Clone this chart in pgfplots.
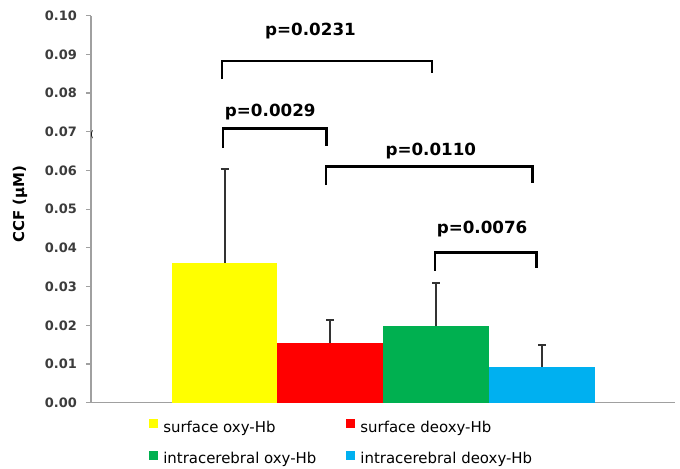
\documentclass[border=0pt]{standalone}
\usepackage{pgfplots}
\pgfplotsset{compat=1.18}
\usepackage{fontspec}
\setmainfont{DejaVu Sans}
\definecolor{cyel}{HTML}{FFFF00}
\definecolor{cred}{HTML}{FF0000}
\definecolor{cgrn}{HTML}{00B050}
\definecolor{cblu}{HTML}{00B0F0}
\definecolor{axgray}{HTML}{A0A0A0}
\definecolor{errgray}{HTML}{333333}
\definecolor{tickgray}{HTML}{3C3C3C}
\pgfplotsset{
  errstyle/.style={error bars/.cd, y dir=plus, y explicit,
    error bar style={draw=errgray, line width=2bp},
    error mark options={rotate=90, draw=errgray, line width=1.8bp, mark size=4bp}},
}
\begin{document}
\begin{tikzpicture}
\path[use as bounding box] (0,0) rectangle (680bp,469bp);
\begin{axis}[
  at={(91bp,66.3bp)}, anchor=south west,
  scale only axis, width=584bp, height=387bp,
  xmin=-1.261, xmax=4.254, ymin=0, ymax=0.10,
  axis x line=bottom, axis y line=left,
  axis line style={-, draw=axgray, line width=1.5bp},
  xtick=\empty,
  ytick={0,0.01,0.02,0.03,0.04,0.05,0.06,0.07,0.08,0.09,0.10},
  scaled y ticks=false,
  /pgf/number format/assume math mode=true,
  yticklabel style={/pgf/number format/fixed, /pgf/number format/fixed zerofill, /pgf/number format/precision=2,
    font=\bfseries\fontsize{13}{15}\selectfont, text=tickgray, inner sep=0pt, anchor=east, xshift=-9bp},
  tick align=outside, major tick length=5bp,
  tick style={draw=axgray, line width=1.2bp},
  ylabel={CCF (μM)},
  every axis y label/.style={at={(axis description cs:-0.1216,0.5134)}, rotate=90, anchor=center,
    font=\bfseries\fontsize{15}{17}\selectfont},
  legend columns=2,
  legend cell align=left,
  legend style={draw=none, fill=none, inner sep=0pt, outer sep=0pt,
    at={(0.0998,-0.0429)}, anchor=north west,
    font=\fontsize{15}{18}\selectfont, row sep=15.8bp,
    nodes={inner sep=1bp},
    /tikz/every odd column/.append style={column sep=4bp},
    /tikz/every even column/.append style={column sep=29bp}},
  legend image code/.code={\fill[#1] (0bp,-1bp) rectangle (9bp,8bp);},
  clip=false,
]
\addplot[ybar, bar width=1, bar shift=0pt, fill=cyel, draw=none, errstyle]
  coordinates {(0,0.0362) +- (0,0.0241)};
\addlegendentry{surface oxy-Hb}
\addplot[ybar, bar width=1, bar shift=0pt, fill=cred, draw=none, errstyle]
  coordinates {(1,0.01535) +- (0,0.0060)};
\addlegendentry{surface deoxy-Hb}
\addplot[ybar, bar width=1, bar shift=0pt, fill=cgrn, draw=none, errstyle]
  coordinates {(2,0.0198) +- (0,0.0111)};
\addlegendentry{intracerebral oxy-Hb}
\addplot[ybar, bar width=1, bar shift=0pt, fill=cblu, draw=none, errstyle]
  coordinates {(3,0.0093) +- (0,0.0056)};
\addlegendentry{intracerebral deoxy-Hb}
% significance brackets
\addplot[black, line width=2.5bp, line join=miter, forget plot, mark=none]
  coordinates {(-0.026,0.0836) (-0.026,0.0883) (1.957,0.0883) (1.957,0.0853)};
\addplot[black, line width=2.5bp, line join=miter, forget plot, mark=none]
  coordinates {(-0.014,0.0658) (-0.014,0.0709) (0.965,0.0709) (0.965,0.0664)};
\addplot[black, line width=2.5bp, line join=miter, forget plot, mark=none]
  coordinates {(0.958,0.0562) (0.958,0.0610) (2.906,0.0610) (2.906,0.0568)};
\addplot[black, line width=2.5bp, line join=miter, forget plot, mark=none]
  coordinates {(1.988,0.0341) (1.988,0.0388) (2.948,0.0388) (2.948,0.0347)};
\node[anchor=base, inner sep=0pt, font=\bfseries\fontsize{16.8}{18}\selectfont] at (axis cs:0.812,0.0950) {p=0.0231};
\node[anchor=base, inner sep=0pt, font=\bfseries\fontsize{16.8}{18}\selectfont] at (axis cs:0.432,0.0739) {p=0.0029};
\node[anchor=base, inner sep=0pt, font=\bfseries\fontsize{16.8}{18}\selectfont] at (axis cs:1.948,0.0640) {p=0.0110};
\node[anchor=base, inner sep=0pt, font=\bfseries\fontsize{16.8}{18}\selectfont] at (axis cs:2.432,0.0438) {p=0.0076};
\node[anchor=base, inner sep=0pt, font=\fontsize{9}{10}\selectfont] at (axis cs:-1.250,0.0684) {(};
\end{axis}
\end{tikzpicture}
\end{document}
